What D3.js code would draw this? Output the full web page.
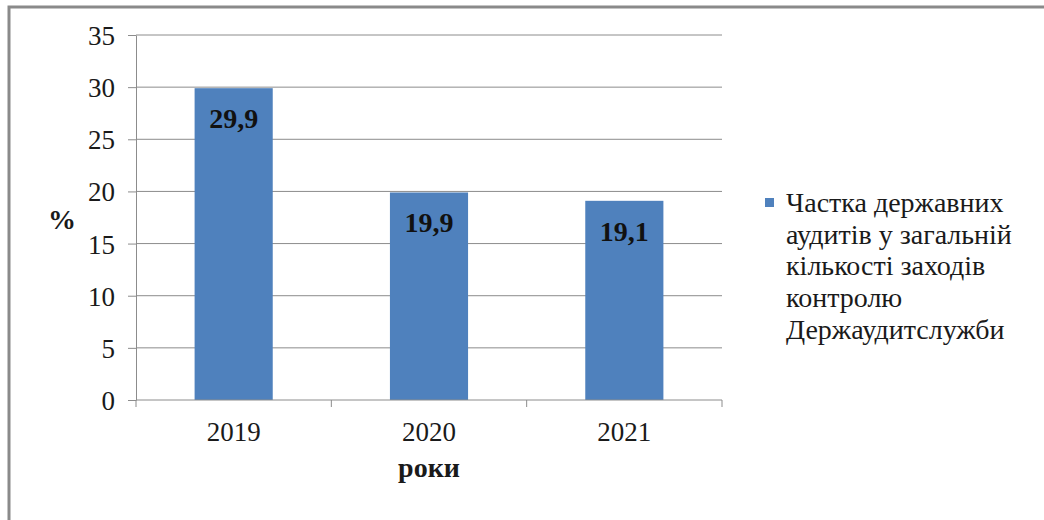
<!DOCTYPE html>
<html>
<head>
<meta charset="utf-8">
<script src="https://cdn.jsdelivr.net/npm/d3@7"></script>
<style>
  body { margin: 0; background: #fff; }
</style>
</head>
<body>
<svg id="chart" width="1044" height="520"></svg>
<script>
// Chart data
const years = ['2019', '2020', '2021'];
const shares = [29.9, 19.9, 19.1];
const yTicks = [0, 5, 10, 15, 20, 25, 30, 35];
const legendLines = ['Частка державних', 'аудитів у загальній', 'кількості заходів', 'контролю', 'Держаудитслужби'];

const svg = d3.select('#chart');
const barColor = '#4f81bd';
const gridColor = '#8c8c8c';
const serif = '"Liberation Serif", "Times New Roman", serif';

// Outer frame (cropped at right and bottom)
svg.append('rect')
  .attr('x', 9).attr('y', 7)
  .attr('width', 1060).attr('height', 540)
  .attr('fill', 'none')
  .attr('stroke', '#8a8a8a')
  .attr('stroke-width', 3);

// Plot area
const plot = { left: 136, right: 722, top: 35, bottom: 400 };

const x = d3.scaleBand()
  .domain(years)
  .range([plot.left, plot.right])
  .paddingInner(0.6)
  .paddingOuter(0.3);

// band scale without padding, for the category tick marks
const xCat = d3.scaleBand().domain(years).range([plot.left, plot.right]);

const y = d3.scaleLinear()
  .domain([0, 35])
  .range([plot.bottom, plot.top]);

// Horizontal gridlines
svg.append('g')
  .selectAll('line')
  .data(yTicks.filter(d => d > 0))
  .join('line')
  .attr('x1', plot.left).attr('x2', plot.right)
  .attr('y1', d => y(d)).attr('y2', d => y(d))
  .attr('stroke', gridColor)
  .attr('stroke-width', 1);

// Y axis
const yAxis = svg.append('g')
  .attr('transform', `translate(${plot.left},0)`)
  .call(d3.axisLeft(y).tickValues(yTicks).tickSize(8).tickPadding(13).tickSizeOuter(0));
yAxis.select('.domain').attr('stroke', gridColor);
yAxis.selectAll('.tick line').attr('stroke', gridColor);
yAxis.selectAll('.tick text')
  .style('font-family', serif)
  .style('font-size', '27px')
  .attr('dy', '0.35em')
  .attr('fill', '#1a1a1a');

// Bars
svg.append('g')
  .selectAll('rect')
  .data(shares)
  .join('rect')
  .attr('x', (d, i) => x(years[i]))
  .attr('y', d => y(d))
  .attr('width', x.bandwidth())
  .attr('height', d => y(0) - y(d))
  .attr('fill', barColor);

// Data labels inside the bar tops
svg.append('g')
  .selectAll('text')
  .data(shares)
  .join('text')
  .attr('x', (d, i) => x(years[i]) + x.bandwidth() / 2)
  .attr('y', d => y(d) + 40)
  .attr('text-anchor', 'middle')
  .style('font-family', serif)
  .style('font-size', '28px')
  .style('font-weight', 'bold')
  .attr('fill', '#111')
  .text(d => String(d).replace('.', ','));

// X axis
const xAxisG = svg.append('g').attr('transform', `translate(0,${plot.bottom})`);
xAxisG.append('line')
  .attr('x1', plot.left).attr('x2', plot.right)
  .attr('stroke', gridColor);
const boundaries = years.map(d => xCat(d)).concat([plot.right]);
xAxisG.selectAll('line.tick')
  .data(boundaries)
  .join('line')
  .attr('class', 'tick')
  .attr('x1', d => d).attr('x2', d => d)
  .attr('y1', 0).attr('y2', 7)
  .attr('stroke', gridColor);
xAxisG.selectAll('text')
  .data(years)
  .join('text')
  .attr('x', d => x(d) + x.bandwidth() / 2)
  .attr('y', 41)
  .attr('text-anchor', 'middle')
  .style('font-family', serif)
  .style('font-size', '27px')
  .attr('fill', '#1a1a1a')
  .text(d => d);

// Axis titles
svg.append('text')
  .attr('x', (plot.left + plot.right) / 2)
  .attr('y', 477)
  .attr('text-anchor', 'middle')
  .style('font-family', serif)
  .style('font-size', '28px')
  .style('font-weight', 'bold')
  .attr('fill', '#1a1a1a')
  .text('роки');

svg.append('text')
  .attr('x', 62)
  .attr('y', 229)
  .attr('text-anchor', 'middle')
  .style('font-family', serif)
  .style('font-size', '28px')
  .style('font-weight', 'bold')
  .attr('fill', '#1a1a1a')
  .text('%');

// Legend
const legend = svg.append('g').attr('transform', 'translate(765,198)');
legend.append('rect')
  .attr('width', 9).attr('height', 9)
  .attr('fill', barColor);
legend.selectAll('text')
  .data(legendLines)
  .join('text')
  .attr('x', 21)
  .attr('y', (d, i) => 14 + i * 31.7)
  .style('font-family', serif)
  .style('font-size', '28px')
  .attr('fill', '#1a1a1a')
  .text(d => d);
</script>
</body>
</html>
